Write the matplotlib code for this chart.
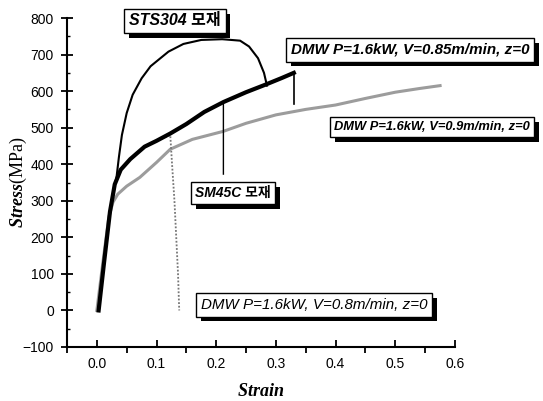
import matplotlib
matplotlib.use("Agg")
import matplotlib.pyplot as plt
import matplotlib.patheffects as pe
from matplotlib.ticker import MultipleLocator

plt.rcParams['mathtext.fontset'] = 'custom'
plt.rcParams['mathtext.it'] = 'Liberation Serif:italic:bold'
plt.rcParams['mathtext.rm'] = 'Liberation Serif'

# curves (strain, stress in MPa)
strain_sts304 = [0.003, 0.012, 0.022, 0.029, 0.033, 0.037, 0.042, 0.05, 0.06, 0.075,
                 0.09, 0.12, 0.145, 0.175, 0.21, 0.24, 0.255, 0.27, 0.28, 0.285]
stress_sts304 = [0, 130, 270, 335, 365, 420, 480, 540, 590, 635,
                 668, 708, 729, 740, 742, 738, 722, 690, 650, 615]

strain_sm45c = [0.003, 0.012, 0.022, 0.03, 0.04, 0.056, 0.08, 0.1, 0.123, 0.15,
                0.18, 0.212, 0.212]
stress_sm45c = [0, 130, 270, 345, 385, 414, 448, 464, 484, 510,
                543, 570, 373]

strain_v085 = [0.003, 0.012, 0.022, 0.03, 0.04, 0.056, 0.08, 0.1, 0.123, 0.15,
               0.18, 0.212, 0.25, 0.283, 0.31, 0.33, 0.33]
stress_v085 = [0, 130, 270, 345, 385, 414, 448, 464, 484, 510,
               543, 570, 597, 618, 636, 650, 564]

strain_v09 = [0.0, 0.01, 0.02, 0.027, 0.035, 0.05, 0.072, 0.1, 0.123, 0.16,
              0.212, 0.25, 0.3, 0.35, 0.4, 0.45, 0.5, 0.54, 0.575]
stress_v09 = [0, 130, 255, 296, 318, 340, 364, 405, 441, 468,
              490, 512, 535, 550, 562, 580, 597, 607, 615]

strain_v08 = [0.002, 0.012, 0.022, 0.03, 0.04, 0.056, 0.08, 0.1, 0.123, 0.126,
              0.13, 0.133, 0.136, 0.138]
stress_v08 = [0, 130, 270, 345, 385, 414, 448, 464, 480, 400,
              300, 200, 100, 0]

labels = ["STS304 모재", "SM45C 모재", "DMW P=1.6kW, V=0.85m/min, z=0",
          "DMW P=1.6kW, V=0.9m/min, z=0", "DMW P=1.6kW, V=0.8m/min, z=0"]

W, H = 543, 401
fig = plt.figure(figsize=(W / 100, H / 100), dpi=100)
ax = fig.add_axes([67 / W, 1 - 347 / H, (455 - 67) / W, (347 - 18) / H])

gray = '#9c9c9c'
ax.plot(strain_v09, stress_v09, color=gray, lw=2.2)
ax.plot(strain_v08, stress_v08, color='#777777', lw=1.3, ls=(0, (1, 1)))
ax.plot(strain_sm45c, stress_sm45c, color='k', lw=1.0)
ax.plot(strain_v085[:-1], stress_v085[:-1], color='k', lw=3.0)
ax.plot(strain_v085[-2:], stress_v085[-2:], color='k', lw=1.2)
ax.plot(strain_sts304, stress_sts304, color='k', lw=1.5)

ax.set_xlim(-0.05, 0.6)
ax.set_ylim(-100, 800)
ax.spines['top'].set_visible(False)
ax.spines['right'].set_visible(False)
ax.spines['left'].set_linewidth(1.5)
ax.spines['bottom'].set_linewidth(1.5)

ax.xaxis.set_major_locator(MultipleLocator(0.1))
ax.xaxis.set_minor_locator(MultipleLocator(0.05))
ax.yaxis.set_major_locator(MultipleLocator(100))
ax.yaxis.set_minor_locator(MultipleLocator(50))
ax.tick_params(axis='x', which='major', direction='in', length=5, width=1.3, pad=7)
ax.tick_params(axis='x', which='minor', direction='out', length=4, width=1.3)
ax.tick_params(axis='y', which='major', direction='inout', length=9, width=1.3, pad=5)
ax.tick_params(axis='y', which='minor', direction='in', length=2.5, width=1.0)
ax.set_xticks([0, 0.1, 0.2, 0.3, 0.4, 0.5, 0.6])
ax.set_xticklabels(["0.0", "0.1", "0.2", "0.3", "0.4", "0.5", "0.6"])
for t in ax.get_xticklabels() + ax.get_yticklabels():
    t.set_fontfamily('Liberation Sans')
    t.set_fontsize(10)

ax.set_xlabel(r'$\mathit{Strain}$', fontsize=13, labelpad=8)
ax.set_ylabel(r'$\mathit{Stress}$(MPa)', fontsize=13, fontfamily='Liberation Serif')
ax.yaxis.set_label_coords(-0.097, 0.5)


def box_label(text, cx, cy, size, bold=True):
    t = fig.text(cx / W, 1 - cy / H, text, ha='center', va='center',
                 fontsize=size, style='italic', weight='bold' if bold else 'normal',
                 family=['Liberation Sans', 'Noto Sans CJK KR'],
                 bbox=dict(boxstyle='square,pad=0.3', fc='white', ec='k', lw=1.0))
    t.get_bbox_patch().set_path_effects(
        [pe.SimplePatchShadow(offset=(3.5, -3.5), shadow_rgbFace='k', alpha=1.0),
         pe.Normal()])
    return t


box_label(labels[0], 175, 21, 11.5)
box_label(labels[1], 233, 193, 10)
box_label(labels[2], 410, 50, 10.9)
box_label(labels[3], 432, 127, 9.3)
box_label(labels[4], 314, 305, 10.9, bold=False)

fig.savefig("out.png", dpi=100)
